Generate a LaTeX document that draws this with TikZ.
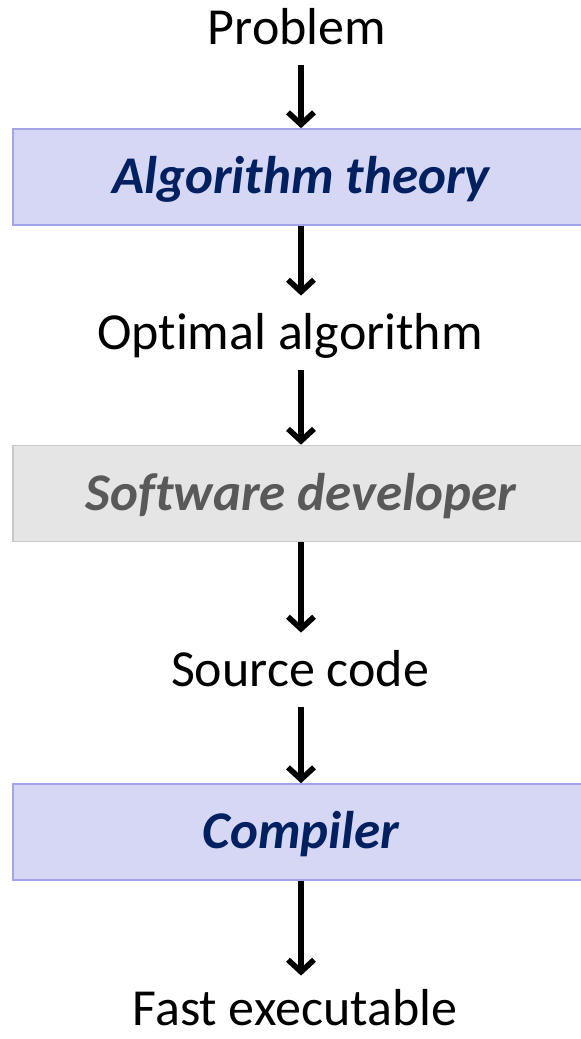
\documentclass[tikz,border=0pt]{standalone}
\usepackage{fontspec}
\setmainfont[Ligatures=NoCommon]{Carlito}
\usepackage{xcolor}
\usetikzlibrary{arrows.meta, positioning}
\definecolor{boxBlue}{RGB}{214,215,244}
\definecolor{lineBlue}{RGB}{163,163,232}
\definecolor{textBlue}{RGB}{0,32,96}
\definecolor{boxGray}{RGB}{229,229,229}
\definecolor{lineGray}{RGB}{200,200,200}
\definecolor{textGray}{RGB}{89,89,89}
\tikzset{
  stage/.style={inner xsep=0pt, inner ysep=10pt, text height=17pt, text depth=0pt,
                anchor=base, font=\fontsize{26}{31}\selectfont},
  blueBox/.style={draw=lineBlue, fill=boxBlue, line width=0.8pt,
                  minimum width=288pt, minimum height=48pt, inner sep=0pt,
                  text height=17pt, text depth=0pt,
                  font=\fontsize{26.5}{31}\selectfont\bfseries\itshape\color{textBlue}},
  grayBox/.style={blueBox, draw=lineGray, fill=boxGray,
                  font=\fontsize{26.5}{31}\selectfont\bfseries\itshape\color{textGray}},
  flow/.style={-{Straight Barb[length=6pt,width=13pt]}, line width=2.8pt},
}

\begin{document}
\begin{tikzpicture}[x=0.5pt, y=0.5pt]
    \useasboundingbox (0,0) rectangle (581,1039);
    % stages of the chain
    \node[stage] (prob) at (297,994) {Problem};
    \node[blueBox] (algo) at (301,862) {Algorithm theory};
    \node[stage] (optalg) at (290,689) {Optimal algorithm};
    \node[grayBox] (dev) at (301,545.5) {Software developer};
    \node[stage] (src) at (300,352) {Source code};
    \node[blueBox] (comp) at (301,207) {Compiler};
    \node[stage, inner ysep=2pt] (exe) at (295,13) {Fast executable};
    % arrows
    \draw[flow] (prob.south -| algo) -- (algo);
    \draw[flow] (algo) -- (optalg.north -| algo);
    \draw[flow] (optalg.south -| dev) -- (dev);
    \draw[flow] (dev) -- (src.north -| dev);
    \draw[flow] (src.south -| comp) -- (comp);
    \draw[flow, shorten >=6pt] (comp) -- (exe.north -| comp);
  \end{tikzpicture}
\end{document}
